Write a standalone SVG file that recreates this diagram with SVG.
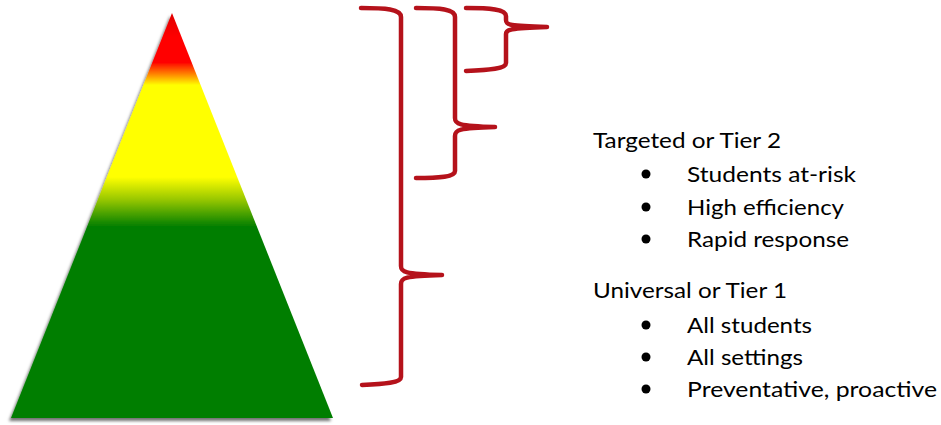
<svg xmlns="http://www.w3.org/2000/svg" width="941" height="425" viewBox="0 0 941 425">
  <style>
    .brace { fill: none; stroke: #B5121B; stroke-width: 4.5; stroke-linecap: round; stroke-linejoin: round; }
    .head { font-family: Lato, "Open Sans", "Liberation Sans", sans-serif; font-size: 22px; fill: #000; }
    .item { font-family: Lato, "Open Sans", "Liberation Sans", sans-serif; font-size: 22px; fill: #000; }
    .dot { fill: #000; }
  </style>
  <defs>
    <linearGradient id="tierGrad" gradientUnits="userSpaceOnUse" x1="0" y1="13" x2="0" y2="418">
      <stop offset="0" stop-color="#E00000"/>
      <stop offset="0.06" stop-color="#FF0000"/>
      <stop offset="0.121" stop-color="#FF0000"/>
      <stop offset="0.15" stop-color="#FF8000"/>
      <stop offset="0.178" stop-color="#FFFF00"/>
      <stop offset="0.405" stop-color="#FFFF00"/>
      <stop offset="0.46" stop-color="#99C800"/>
      <stop offset="0.528" stop-color="#007E00"/>
      <stop offset="1" stop-color="#007E00"/>
    </linearGradient>
    <filter id="shadow" x="-10%" y="-10%" width="120%" height="120%">
      <feDropShadow dx="-2" dy="3" stdDeviation="1.5" flood-color="#000" flood-opacity="0.55"/>
    </filter>
  </defs>

  <g id="pyramid">
    <polygon points="172,13 333,418 11,418" fill="url(#tierGrad)" filter="url(#shadow)"/>
  </g>

  <g id="braces">
    <path id="brace-all" class="brace" d="M361,8 C385,8 401,9 401,17 L401,266 C401,272 404,274 442,275 M442,275 C404,276 401,278 401,284 L401,377 C401,383 385,384 362,385"/>
    <path id="brace-tier2" class="brace" d="M416,8 C440,8 455,9 455,17 L455,118 C455,124 458,126 495,127 M495,127 C458,128 455,130 455,136 L455,171 C455,177 440,178 416,178"/>
    <path id="brace-tier3" class="brace" d="M466,8 C490,8 506,9 506,16 L506,20 C506,25 509,26 547,27 M547,27 C509,28 506,30 506,34 L506,63 C506,69 490,70 466,71"/>
  </g>

  <g id="tier2-label">
    <text class="head" x="593" y="148" textLength="188" lengthAdjust="spacingAndGlyphs">Targeted or Tier 2</text>
    <circle class="dot" cx="646" cy="174" r="4.5"/>
    <text class="item" x="687" y="182" textLength="169" lengthAdjust="spacingAndGlyphs">Students at-risk</text>
    <circle class="dot" cx="646" cy="207" r="4.5"/>
    <text class="item" x="687" y="215" textLength="157" lengthAdjust="spacingAndGlyphs">High efficiency</text>
    <circle class="dot" cx="646" cy="239" r="4.5"/>
    <text class="item" x="687" y="247" textLength="162" lengthAdjust="spacingAndGlyphs">Rapid response</text>
  </g>

  <g id="tier1-label">
    <text class="head" x="593" y="298" textLength="194" lengthAdjust="spacingAndGlyphs">Universal or Tier 1</text>
    <circle class="dot" cx="646" cy="325" r="4.5"/>
    <text class="item" x="687" y="333" textLength="125" lengthAdjust="spacingAndGlyphs">All students</text>
    <circle class="dot" cx="646" cy="357" r="4.5"/>
    <text class="item" x="687" y="365" textLength="116" lengthAdjust="spacingAndGlyphs">All settings</text>
    <circle class="dot" cx="646" cy="389" r="4.5"/>
    <text class="item" x="687" y="397" textLength="250" lengthAdjust="spacingAndGlyphs">Preventative, proactive</text>
  </g>
</svg>
